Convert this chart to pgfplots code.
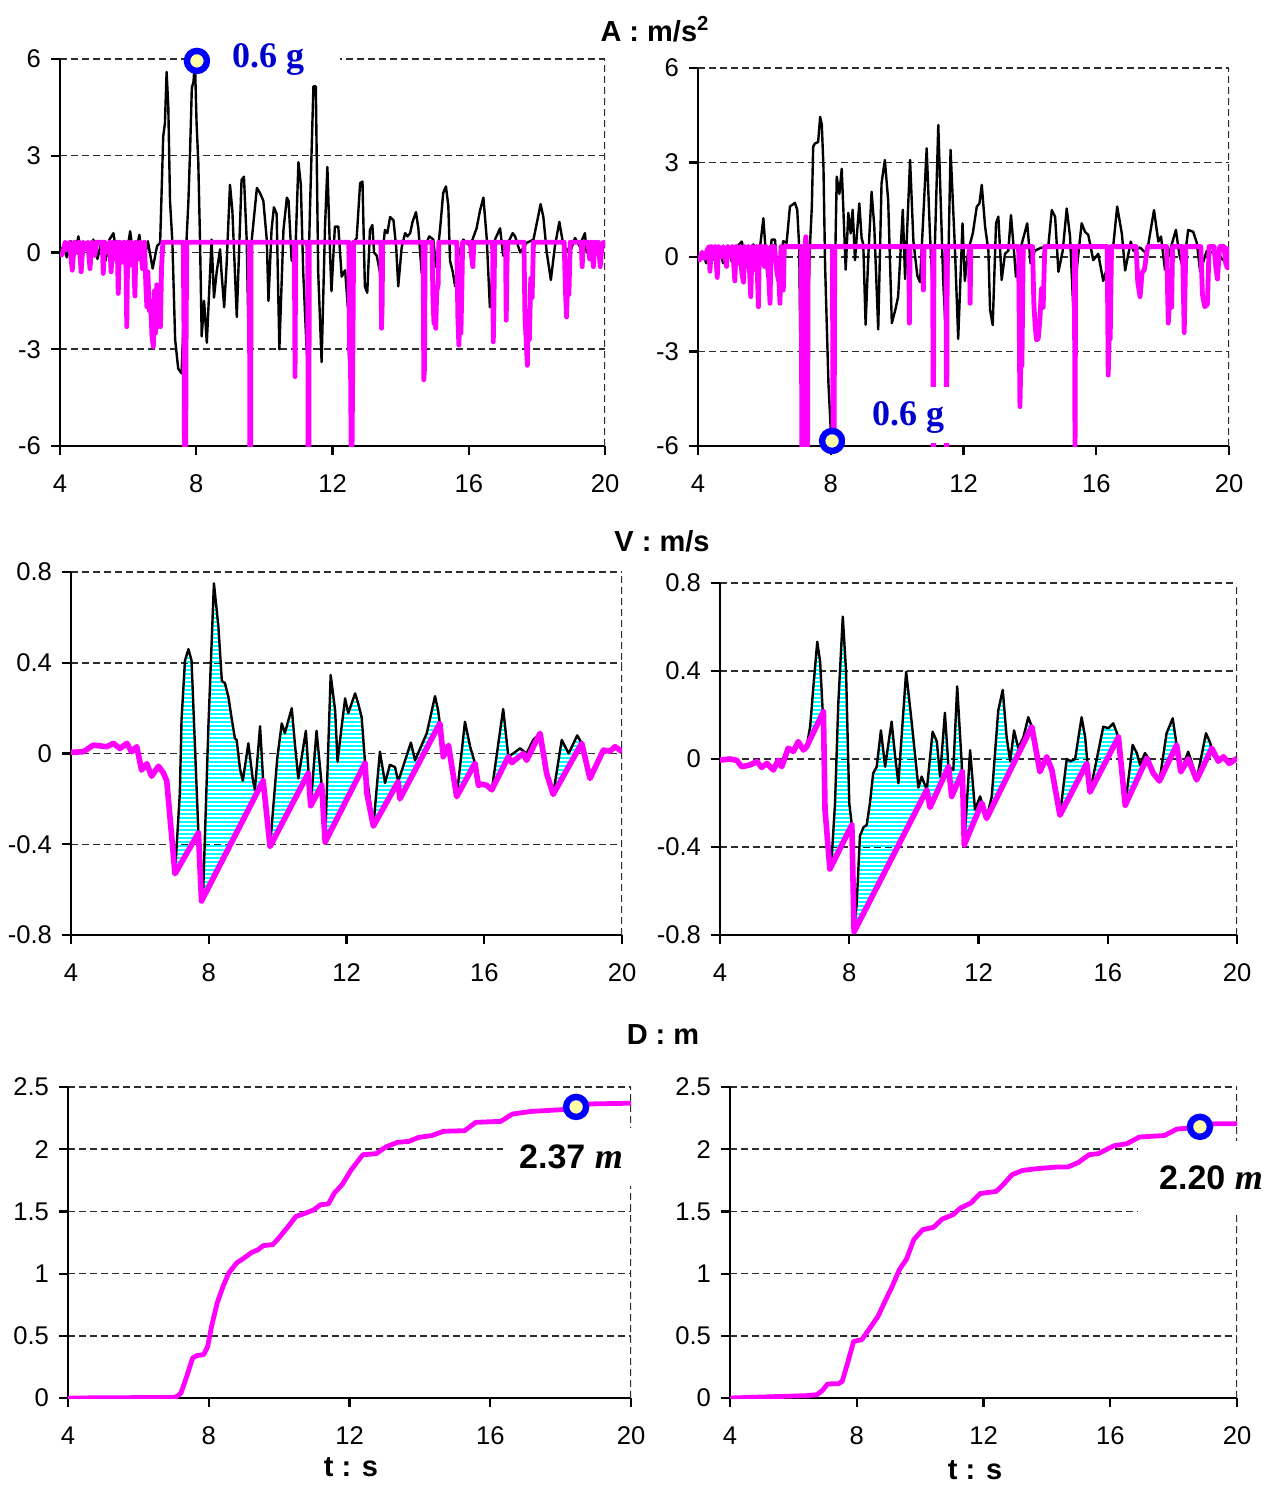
\documentclass[border=0pt]{standalone}
\usepackage{fontspec}
\setmainfont{Liberation Sans}
\newfontfamily\serifb{Liberation Serif}
\usepackage{pgfplots}
\pgfplotsset{compat=1.18}
\usepgfplotslibrary{fillbetween}
\usetikzlibrary{patterns.meta}
\definecolor{gblue}{RGB}{0,0,204}
\definecolor{myel}{RGB}{255,255,170}
\definecolor{gridc}{RGB}{45,45,45}
\definecolor{mgt}{RGB}{255,0,255}
\definecolor{cyn}{RGB}{0,255,255}
\definecolor{rblue}{RGB}{0,0,255}
\pgfplotsset{
  panel/.style={scale only axis, anchor=south west, xmin=4, xmax=20, xtick={4,8,12,16,20},
    axis x line*=bottom, axis y line*=left,
    axis line style={line width=1.1pt},
    tick style={black, line width=1.1pt},
    tick align=outside, major tick length=4.5pt,
    ymajorgrids, grid style={dash pattern=on 3.5pt off 2pt, gridc, line width=0.75pt},
    tick label style={font=\fontsize{12.8}{14}\selectfont},
    /pgf/number format/assume math mode=true,
    xticklabel style={yshift=-6.5pt},
    yticklabel style={xshift=-1.5pt},
  },
  blk/.style={black, line width=1.2pt, line join=round},
  mag/.style={mgt, line width=#1, line join=round},
  ring/.style={only marks, mark=*, mark size=5.0pt, mark options={draw=rblue, fill=myel, line width=3.2pt}},
}
\newcommand{\rline}{\draw[dash pattern=on 3.5pt off 2pt, gridc, line width=0.75pt] (rel axis cs:1,0) -- (rel axis cs:1,1);}
\begin{document}
\begin{tikzpicture}
% ---------------- A left
\begin{axis}[panel, at={(30pt,-223pt)}, width=272.5pt, height=193.5pt, ymin=-6, ymax=6, ytick={-6,-3,0,3,6}]
\rline
\addplot[blk] coordinates {(4.0,0.0) (4.1,0.2) (4.2,-0.15) (4.32,0.35) (4.42,-0.1) (4.54,0.5) (4.64,-0.2) (4.75,0.3) (4.86,-0.15) (4.98,0.4) (5.1,-0.2) (5.22,0.35) (5.34,-0.25) (5.45,0.4) (5.57,0.6) (5.68,-0.2) (5.8,0.3) (5.92,-0.3) (6.06,0.66) (6.18,-0.3) (6.33,0.55) (6.45,-0.4) (6.58,0.35) (6.72,-0.5) (6.85,0.2) (6.94,0.3) (7.03,3.6) (7.08,4.0) (7.13,5.6) (7.18,4.5) (7.23,1.6) (7.3,0.3) (7.38,-2.7) (7.47,-3.6) (7.57,-3.75) (7.65,-1.5) (7.72,0.5) (7.77,1.6) (7.82,3.2) (7.87,5.1) (7.92,5.3) (7.96,5.97) (8.01,4.0) (8.06,2.8) (8.11,0.4) (8.16,-2.6) (8.23,-1.5) (8.31,-2.8) (8.45,0.4) (8.52,-1.4) (8.6,-0.6) (8.7,0.1) (8.74,-0.6) (8.82,-1.7) (8.89,-0.4) (8.99,2.1) (9.06,1.3) (9.19,-2.0) (9.33,2.25) (9.4,2.35) (9.48,0.4) (9.53,-2.3) (9.63,0.4) (9.78,2.0) (9.87,1.85) (9.97,1.6) (10.07,0.4) (10.12,-1.5) (10.21,0.7) (10.28,1.4) (10.36,1.2) (10.44,-3.0) (10.56,0.7) (10.66,1.7) (10.71,1.6) (10.8,-0.25) (10.9,-0.3) (11.0,2.8) (11.07,2.1) (11.14,-0.6) (11.24,-3.0) (11.34,1.4) (11.44,5.15) (11.51,5.15) (11.58,-0.6) (11.68,-3.4) (11.78,0.8) (11.85,2.65) (11.93,-0.1) (11.97,-1.2) (12.07,0.8) (12.17,0.8) (12.27,-0.75) (12.37,-0.55) (12.45,-1.7) (12.56,0.2) (12.71,0.45) (12.81,2.15) (12.88,2.2) (12.95,-1.05) (13.02,-1.25) (13.1,0.7) (13.17,0.85) (13.22,0.0) (13.3,-0.1) (13.4,-0.65) (13.54,0.7) (13.61,0.6) (13.69,1.1) (13.79,1.0) (13.87,0.15) (13.93,-1.05) (14.03,0.15) (14.13,0.6) (14.2,0.5) (14.28,0.6) (14.35,0.95) (14.45,1.25) (14.52,0.75) (14.62,-0.65) (14.72,0.2) (14.84,0.5) (14.96,0.4) (15.04,-0.45) (15.16,0.75) (15.25,1.85) (15.33,2.05) (15.4,1.45) (15.45,-0.25) (15.53,-0.6) (15.6,-1.05) (15.69,-0.1) (15.84,0.4) (16.04,0.2) (16.23,0.75) (16.33,1.3) (16.43,1.7) (16.53,0.4) (16.62,-1.7) (16.77,0.4) (16.92,0.75) (17.01,-0.1) (17.11,0.2) (17.29,0.6) (17.36,0.5) (17.51,0.0) (17.7,0.3) (17.9,0.4) (18.11,1.5) (18.19,1.1) (18.29,0.0) (18.41,-0.85) (18.53,0.2) (18.66,0.95) (18.78,0.2) (18.97,0.0) (19.12,0.45) (19.25,0.2) (19.41,0.6) (19.46,0.0) (19.66,0.0) (19.86,-0.1) (20.0,0.3)};
\addplot[mag=2.4pt] coordinates {(4.0,0.0) (4.05,-0.08) (4.1,0.05) (4.15,0.32) (4.22,0.1) (4.28,0.32) (4.36,-0.55) (4.42,0.32) (4.5,0.0) (4.56,0.32) (4.62,-0.6) (4.68,0.32) (4.75,0.1) (4.82,0.32) (4.88,-0.5) (4.94,0.32) (5.02,-0.1) (5.08,0.32) (5.24,0.32) (5.27,-0.65) (5.31,0.32) (5.4,0.0) (5.46,0.32) (5.5,-0.6) (5.55,0.32) (5.62,-0.2) (5.68,0.32) (5.71,-1.27) (5.75,0.32) (5.82,-0.3) (5.88,0.32) (5.94,-0.5) (5.96,-2.3) (5.99,0.32) (6.05,-0.4) (6.1,0.32) (6.17,-0.4) (6.2,-1.35) (6.23,0.32) (6.3,-0.2) (6.36,0.32) (6.42,-0.5) (6.48,0.32) (6.52,-1.0) (6.55,-1.68) (6.58,-0.6) (6.62,-1.8) (6.66,-1.5) (6.7,-2.6) (6.74,-2.92) (6.77,-1.2) (6.8,-2.5) (6.84,-1.0) (6.88,-2.3) (6.92,-1.8) (6.95,-2.3) (6.98,-0.5) (7.02,0.32) (7.62,0.32) (7.64,-2.5) (7.655,-6.5) (7.69,-6.5) (7.7,-3) (7.72,0.32) (9.56,0.32) (9.575,-6.5) (9.595,-6.5) (9.61,0.32) (10.88,0.32) (10.9,-3.85) (10.92,0.32) (11.27,0.32) (11.285,-6.5) (11.305,-6.5) (11.32,0.32) (12.48,0.32) (12.5,-3.0) (12.53,-3.5) (12.55,-6.5) (12.57,-6.5) (12.6,-2.8) (12.62,0.32) (13.42,0.32) (13.44,-2.35) (13.46,-1.5) (13.47,0.32) (14.66,0.32) (14.68,-3.95) (14.7,-3.6) (14.72,0.32) (14.92,0.32) (14.95,-1.5) (14.98,-2.2) (15.0,-1.4) (15.03,-2.35) (15.06,-1.2) (15.1,-1.0) (15.12,0.32) (15.65,0.32) (15.68,-2.0) (15.71,-2.87) (15.74,-1.8) (15.77,-2.5) (15.8,-1.0) (15.82,0.32) (16.05,0.32) (16.08,-0.1) (16.12,-0.44) (16.15,0.32) (16.7,0.32) (16.72,-2.77) (16.74,-1.5) (16.76,0.32) (17.08,0.32) (17.1,-2.1) (17.12,-0.5) (17.14,0.32) (17.62,0.32) (17.65,-2.0) (17.68,-2.6) (17.72,-3.5) (17.75,-2.0) (17.78,-2.7) (17.82,-0.8) (17.86,-1.4) (17.9,0.32) (18.8,0.32) (18.84,-1.2) (18.87,-2.0) (18.9,-1.0) (18.94,-1.3) (18.98,0.32) (19.3,0.32) (19.33,-0.44) (19.36,0.32) (19.5,0.32) (19.55,-0.2) (19.6,0.32) (19.66,-0.44) (19.7,0.32) (19.75,0.0) (19.8,0.32) (19.86,-0.44) (19.9,0.1) (19.95,0.32) (20.0,0.32)};
\addplot[ring] coordinates {(8.02,5.94)};
\end{axis}
% ---------------- A right
\begin{axis}[panel, at={(349pt,-223pt)}, width=265.5pt, height=189pt, ymin=-6, ymax=6, ytick={-6,-3,0,3,6}]
\rline
\addplot[blk] coordinates {(4.0,0.0) (4.12,0.15) (4.25,-0.2) (4.38,0.2) (4.5,-0.1) (4.63,0.25) (4.76,-0.2) (4.9,0.3) (5.02,-0.15) (5.15,0.3) (5.32,0.49) (5.45,-0.2) (5.55,0.2) (5.67,0.4) (5.8,-0.3) (5.97,1.23) (6.09,-0.62) (6.22,0.55) (6.32,0.55) (6.39,-0.5) (6.57,0.5) (6.67,0.45) (6.77,1.6) (6.92,1.72) (6.99,1.5) (7.05,0.3) (7.09,-3.4) (7.2,-3.6) (7.3,-2.0) (7.38,0.5) (7.43,1.6) (7.47,3.5) (7.52,3.6) (7.62,3.65) (7.68,4.45) (7.73,4.2) (7.78,2.85) (7.83,-0.3) (7.93,-4.0) (8.0,-5.5) (8.05,-5.9) (8.1,-2.0) (8.18,2.55) (8.26,2.0) (8.33,2.8) (8.38,1.5) (8.45,-0.4) (8.53,1.4) (8.6,0.75) (8.66,1.5) (8.73,-0.1) (8.78,0.6) (8.86,1.7) (8.93,0.6) (8.98,0.4) (9.05,-2.15) (9.13,0.0) (9.23,2.07) (9.31,1.0) (9.43,-2.3) (9.53,2.34) (9.63,3.08) (9.73,1.8) (9.84,-2.1) (9.94,-1.7) (10.03,-1.26) (10.17,1.5) (10.24,-0.7) (10.39,3.08) (10.49,0.5) (10.61,-0.6) (10.69,-0.8) (10.89,3.45) (10.99,0.7) (11.09,-1.4) (11.24,4.19) (11.39,-0.8) (11.49,-2.9) (11.61,3.4) (11.74,0.3) (11.84,-2.6) (11.97,1.07) (12.04,-0.76) (12.14,0.2) (12.28,0.75) (12.4,1.6) (12.48,1.7) (12.55,2.29) (12.65,0.97) (12.75,0.2) (12.8,-1.68) (12.88,-2.16) (12.98,1.07) (13.05,1.28) (13.15,-0.73) (13.25,0.1) (13.35,0.2) (13.43,1.33) (13.52,0.2) (13.58,-0.63) (13.7,0.2) (13.92,1.07) (14.02,-0.2) (14.15,0.2) (14.35,0.3) (14.55,0.3) (14.66,1.49) (14.76,1.28) (14.86,-0.47) (14.99,0.2) (15.11,1.54) (15.21,0.65) (15.31,-1.7) (15.41,-0.4) (15.56,1.07) (15.66,0.8) (15.76,0.7) (15.91,-0.1) (16.06,0.1) (16.21,-0.76) (16.51,0.33) (16.63,1.6) (16.77,0.75) (16.87,-0.43) (17.04,0.49) (17.12,0.2) (17.32,0.3) (17.52,0.1) (17.74,1.49) (17.87,0.49) (17.95,0.65) (18.07,-0.4) (18.22,0.2) (18.4,0.86) (18.5,0.1) (18.62,-0.4) (18.77,0.86) (18.92,0.8) (19.03,0.45) (19.13,-0.46) (19.33,0.2) (19.63,0.1) (19.93,-0.2) (20.0,-0.1)};
\addplot[mag=2.4pt] coordinates {(4.0,0.05) (4.05,-0.1) (4.12,0.15) (4.2,-0.05) (4.27,0.2) (4.33,0.33) (4.36,-0.45) (4.4,0.33) (4.47,0.0) (4.52,0.33) (4.58,-0.65) (4.62,0.33) (4.7,0.0) (4.76,0.33) (4.86,-0.3) (4.9,0.33) (4.98,0.0) (5.04,0.33) (5.11,-0.76) (5.15,0.33) (5.22,-0.2) (5.27,0.33) (5.32,-0.5) (5.37,-0.8) (5.41,0.33) (5.47,-0.3) (5.52,0.33) (5.56,-0.6) (5.59,-1.26) (5.63,0.33) (5.7,-0.4) (5.76,0.33) (5.8,-0.9) (5.82,-1.58) (5.85,0.33) (5.95,0.33) (6.0,-0.3) (6.05,0.33) (6.13,-0.6) (6.17,-1.47) (6.2,0.33) (6.3,0.33) (6.38,-0.5) (6.44,-0.8) (6.47,-1.47) (6.5,0.33) (6.54,-0.6) (6.57,-1.05) (6.6,0.33) (7.11,0.33) (7.13,-6.5) (7.18,-6.5) (7.2,-3.0) (7.22,0.33) (7.25,0.64) (7.27,0.33) (7.28,-4.3) (7.3,-6.5) (7.32,0.33) (8.05,0.33) (8.07,-6.5) (8.1,-6.5) (8.12,0.33) (10.35,0.33) (10.37,-2.1) (10.39,0.33) (10.77,0.33) (10.79,-1.05) (10.81,0.33) (11.07,0.33) (11.09,-6.5) (11.11,0.33) (11.47,0.33) (11.49,-6.5) (11.51,0.33) (12.18,0.33) (12.2,-1.47) (12.22,0.33) (13.66,0.33) (13.7,-4.75) (13.73,-3.2) (13.76,-3.45) (13.8,0.33) (14.08,0.33) (14.12,-1.5) (14.16,-2.2) (14.2,-2.63) (14.25,-2.6) (14.3,-2.0) (14.35,-1.0) (14.4,-1.6) (14.45,0.33) (15.34,0.33) (15.36,-6.5) (15.38,0.33) (16.33,0.33) (16.36,-3.75) (16.39,-2.5) (16.42,-2.6) (16.46,0.33) (17.2,0.33) (17.25,-0.8) (17.32,-1.26) (17.38,-0.5) (17.45,-0.4) (17.55,0.33) (18.12,0.33) (18.17,-2.1) (18.22,-1.2) (18.27,-1.6) (18.3,0.33) (18.6,0.33) (18.65,-2.4) (18.7,0.33) (19.15,0.33) (19.2,-1.2) (19.27,-1.58) (19.35,-1.5) (19.4,0.33) (19.55,0.33) (19.6,-0.3) (19.65,-0.7) (19.72,0.33) (19.85,0.33) (19.9,-0.2) (19.95,-0.35) (20.0,0.33)};
\addplot[ring] coordinates {(8.04,-5.84)};
\end{axis}
% ---------------- V left
\begin{axis}[panel, at={(35.5pt,-467.5pt)}, width=275.5pt, height=181.5pt, ymin=-0.8, ymax=0.8, ytick={-0.8,-0.4,0,0.4,0.8}]
\rline
\addplot[blk, name path=vb] coordinates {(4.0,0.005) (4.36,0.008) (4.65,0.037) (5.04,0.03) (5.23,0.045) (5.42,0.022) (5.62,0.045) (5.76,0.008) (5.91,0.03) (6.05,-0.073) (6.2,-0.045) (6.34,-0.10) (6.54,-0.056) (6.68,-0.085) (6.78,-0.12) (7.02,-0.53) (7.16,-0.175) (7.21,0.15) (7.31,0.41) (7.41,0.46) (7.5,0.41) (7.6,0.03) (7.7,-0.35) (7.84,-0.6) (7.99,0.12) (8.15,0.75) (8.28,0.56) (8.38,0.32) (8.47,0.31) (8.57,0.25) (8.67,0.15) (8.76,0.067) (8.81,0.06) (8.91,-0.07) (8.99,-0.12) (9.15,0.045) (9.28,-0.115) (9.34,-0.16) (9.49,0.12) (9.58,-0.12) (9.78,-0.41) (9.99,-0.02) (10.12,0.133) (10.21,0.09) (10.41,0.2) (10.5,0.045) (10.6,-0.11) (10.82,0.1) (10.96,-0.23) (11.13,0.1) (11.28,-0.14) (11.38,-0.39) (11.54,0.346) (11.67,0.19) (11.74,-0.036) (11.86,0.12) (11.96,0.243) (12.05,0.177) (12.25,0.265) (12.34,0.22) (12.44,0.16) (12.54,-0.043) (12.78,-0.32) (12.97,0.008) (13.12,-0.13) (13.26,-0.05) (13.41,-0.06) (13.5,-0.124) (13.87,0.048) (13.99,-0.03) (14.33,0.089) (14.57,0.253) (14.66,0.19) (14.71,0.133) (14.81,-0.014) (14.96,0.036) (15.2,-0.19) (15.44,0.14) (15.59,0.03) (15.73,-0.043) (15.83,-0.14) (15.92,-0.135) (16.07,-0.14) (16.22,-0.16) (16.55,0.196) (16.7,-0.014) (16.84,0.0) (17.04,0.023) (17.23,0.0) (17.42,0.06) (17.62,0.089) (17.81,-0.087) (18.0,-0.18) (18.25,0.06) (18.45,0.0) (18.7,0.08) (18.83,0.045) (19.07,-0.11) (19.46,0.015) (19.65,0.01) (19.8,0.03) (20.0,0.008)};
\addplot[mag=2.8pt, name path=vm] coordinates {(4.0,0.005) (4.36,0.008) (4.65,0.037) (5.04,0.03) (5.23,0.045) (5.42,0.022) (5.62,0.045) (5.76,0.008) (5.91,0.03) (6.05,-0.073) (6.2,-0.045) (6.34,-0.10) (6.54,-0.056) (6.68,-0.085) (6.78,-0.12) (7.02,-0.53) (7.7,-0.35) (7.79,-0.65) (9.58,-0.12) (9.78,-0.41) (10.89,-0.087) (10.96,-0.23) (11.28,-0.14) (11.38,-0.39) (12.54,-0.043) (12.59,-0.175) (12.78,-0.32) (13.5,-0.124) (13.55,-0.2) (14.71,0.133) (14.81,-0.014) (14.96,0.036) (15.2,-0.19) (15.73,-0.043) (15.83,-0.14) (15.92,-0.135) (16.07,-0.14) (16.22,-0.16) (16.7,-0.014) (16.8,-0.04) (17.13,0.0) (17.23,-0.03) (17.62,0.089) (17.81,-0.087) (18.0,-0.18) (18.83,0.045) (19.07,-0.11) (19.46,0.015) (19.65,0.01) (19.8,0.03) (20.0,0.008)};
\addplot[pattern={Lines[angle=0,distance=2pt,line width=1.1pt]}, pattern color=cyn, draw=none] fill between[of=vb and vm];
\end{axis}
% ---------------- V right
\begin{axis}[panel, at={(360pt,-467.5pt)}, width=258.5pt, height=176pt, ymin=-0.8, ymax=0.8, ytick={-0.8,-0.4,0,0.4,0.8}]
\rline
\addplot[blk, name path=wb] coordinates {(4.0,-0.005) (4.31,0.0) (4.52,-0.006) (4.67,-0.035) (4.93,-0.027) (5.14,-0.012) (5.29,-0.038) (5.45,-0.02) (5.65,-0.05) (5.8,-0.006) (5.91,-0.035) (6.11,0.049) (6.27,0.035) (6.42,0.079) (6.58,0.041) (6.68,0.056) (6.79,0.147) (6.89,0.33) (7.01,0.533) (7.1,0.44) (7.18,0.21) (7.25,-0.23) (7.4,-0.49) (7.46,-0.44) (7.56,-0.2) (7.66,0.25) (7.8,0.647) (7.9,0.4) (8.0,-0.2) (8.08,-0.3) (8.15,-0.77) (8.23,-0.66) (8.33,-0.35) (8.44,-0.31) (8.54,-0.3) (8.64,-0.2) (8.74,-0.065) (8.85,-0.035) (8.98,0.13) (9.11,-0.035) (9.31,0.17) (9.42,0.012) (9.52,-0.11) (9.76,0.397) (9.93,0.17) (10.14,-0.13) (10.24,-0.08) (10.4,-0.14) (10.58,0.124) (10.71,0.08) (10.81,-0.08) (10.96,0.21) (11.07,-0.035) (11.22,-0.05) (11.34,0.33) (11.48,-0.02) (11.56,-0.39) (11.74,0.04) (11.89,-0.23) (12.05,-0.17) (12.25,-0.27) (12.41,-0.17) (12.61,0.22) (12.75,0.314) (12.87,0.1) (12.98,-0.01) (13.1,0.13) (13.23,0.05) (13.39,0.1) (13.54,0.19) (13.65,0.147) (13.9,-0.058) (14.11,0.01) (14.27,-0.05) (14.52,-0.255) (14.73,0.0) (14.85,-0.01) (14.99,0.0) (15.19,0.19) (15.3,0.1) (15.45,-0.15) (15.66,0.0) (15.86,0.147) (16.02,0.14) (16.17,0.162) (16.33,0.1) (16.54,-0.21) (16.77,0.064) (16.9,0.027) (17.0,-0.027) (17.15,0.027) (17.26,0.003) (17.41,-0.065) (17.6,-0.1) (17.82,0.117) (18.01,0.185) (18.13,0.064) (18.26,-0.058) (18.49,0.033) (18.63,-0.03) (18.75,-0.095) (19.04,0.117) (19.17,0.073) (19.27,0.015) (19.42,-0.01) (19.58,0.01) (19.76,-0.02) (20.0,0.003)};
\addplot[mag=2.8pt, name path=wm] coordinates {(4.0,-0.005) (4.31,0.0) (4.52,-0.006) (4.67,-0.035) (4.93,-0.027) (5.14,-0.012) (5.29,-0.038) (5.45,-0.02) (5.65,-0.05) (5.8,-0.006) (5.91,-0.035) (6.11,0.049) (6.27,0.035) (6.42,0.079) (6.58,0.041) (6.68,0.056) (7.2,0.215) (7.25,-0.23) (7.4,-0.5) (8.08,-0.3) (8.15,-0.785) (10.4,-0.14) (10.5,-0.22) (11.07,-0.035) (11.17,-0.17) (11.5,-0.058) (11.56,-0.39) (12.1,-0.2) (12.25,-0.27) (13.65,0.147) (13.9,-0.058) (14.11,0.01) (14.27,-0.05) (14.52,-0.255) (15.35,-0.02) (15.45,-0.15) (16.33,0.1) (16.54,-0.21) (17.21,0.003) (17.41,-0.065) (17.6,-0.1) (18.13,0.064) (18.26,-0.058) (18.49,0.0) (18.75,-0.095) (19.22,0.049) (19.42,-0.01) (19.58,0.01) (19.76,-0.02) (20.0,0.003)};
\addplot[pattern={Lines[angle=0,distance=2pt,line width=1.1pt]}, pattern color=cyn, draw=none] fill between[of=wb and wm];
\end{axis}
% ---------------- D left
\begin{axis}[panel, at={(34pt,-699pt)}, width=281.5pt, height=155.5pt, ymin=0, ymax=2.5, ytick={0,0.5,1,1.5,2,2.5}]
\rline
\addplot[mag=2.4pt] coordinates {(4,0) (7.0,0.005) (7.1,0.013) (7.21,0.04) (7.37,0.17) (7.54,0.32) (7.65,0.34) (7.86,0.35) (7.97,0.415) (8.08,0.576) (8.24,0.764) (8.41,0.9) (8.57,1.005) (8.79,1.085) (9.0,1.125) (9.22,1.17) (9.39,1.19) (9.55,1.225) (9.82,1.233) (9.99,1.286) (10.26,1.38) (10.48,1.46) (10.69,1.48) (10.97,1.51) (11.18,1.554) (11.4,1.56) (11.57,1.648) (11.79,1.715) (12.05,1.835) (12.38,1.956) (12.76,1.964) (13.03,2.018) (13.36,2.055) (13.69,2.063) (13.96,2.095) (14.34,2.11) (14.67,2.144) (15.27,2.149) (15.59,2.216) (16.3,2.224) (16.63,2.283) (17.17,2.304) (18.04,2.318) (18.42,2.33) (18.69,2.363) (20,2.37)};
\addplot[ring] coordinates {(18.44,2.34)};
\end{axis}
% ---------------- D right
\begin{axis}[panel, at={(365pt,-699pt)}, width=253.5pt, height=155.5pt, ymin=0, ymax=2.5, ytick={0,0.5,1,1.5,2,2.5}]
\rline
\addplot[mag=2.4pt] coordinates {(4,0) (6.41,0.019) (6.75,0.027) (6.92,0.062) (7.08,0.113) (7.42,0.115) (7.54,0.134) (7.71,0.28) (7.9,0.455) (8.16,0.469) (8.38,0.55) (8.67,0.656) (8.89,0.777) (9.12,0.898) (9.34,1.03) (9.57,1.117) (9.8,1.273) (10.08,1.353) (10.42,1.372) (10.7,1.439) (11.04,1.474) (11.27,1.527) (11.6,1.567) (11.89,1.643) (12.4,1.661) (12.62,1.715) (12.9,1.795) (13.24,1.83) (13.7,1.844) (14.32,1.857) (14.66,1.857) (15.0,1.894) (15.33,1.956) (15.62,1.964) (16.12,2.028) (16.52,2.044) (16.92,2.098) (17.71,2.11) (18.1,2.162) (18.84,2.178) (19.29,2.205) (20,2.205)};
\addplot[ring] coordinates {(18.83,2.18)};
\end{axis}
% ---------------- texts
\fill[white] (105pt,-19pt) rectangle (170pt,-41pt);
\fill[white] (422.5pt,-193.5pt) rectangle (492.5pt,-221.5pt);
\fill[white] (251.5pt,-564pt) rectangle (320pt,-593pt);
\fill[white] (569pt,-570.5pt) rectangle (636.5pt,-606pt);
\node[font=\fontsize{18}{20}\selectfont\serifb\bfseries, text=gblue] at (134pt,-30pt) {0.6 g};
\node[font=\fontsize{18}{20}\selectfont\serifb\bfseries, text=gblue] at (454pt,-209pt) {0.6 g};
\node[font=\fontsize{17}{19}\selectfont\bfseries] at (285.5pt,-578.5pt) {2.37 {\fontsize{18}{19}\selectfont\serifb\bfseries\itshape m}};
\node[font=\fontsize{17}{19}\selectfont\bfseries] at (605.5pt,-589pt) {2.20 {\fontsize{18}{19}\selectfont\serifb\bfseries\itshape m}};
\node[font=\fontsize{14.5}{17}\selectfont\bfseries] at (327.5pt,-14.5pt) {A : m/s\textsuperscript{2}};
\node[font=\fontsize{14.5}{17}\selectfont\bfseries] at (331pt,-270.5pt) {V : m/s};
\node[font=\fontsize{14.5}{17}\selectfont\bfseries] at (331.5pt,-517.5pt) {D : m};
\node[font=\fontsize{14.5}{17}\selectfont\bfseries, inner sep=0pt, anchor=base] at (175.5pt,-738pt) {t : s};
\node[font=\fontsize{14.5}{17}\selectfont\bfseries, inner sep=0pt, anchor=base] at (487.5pt,-739.5pt) {t : s};
\pgfresetboundingbox
\path[use as bounding box] (0,0) rectangle (636.5pt,-743pt);
\end{tikzpicture}
\end{document}
